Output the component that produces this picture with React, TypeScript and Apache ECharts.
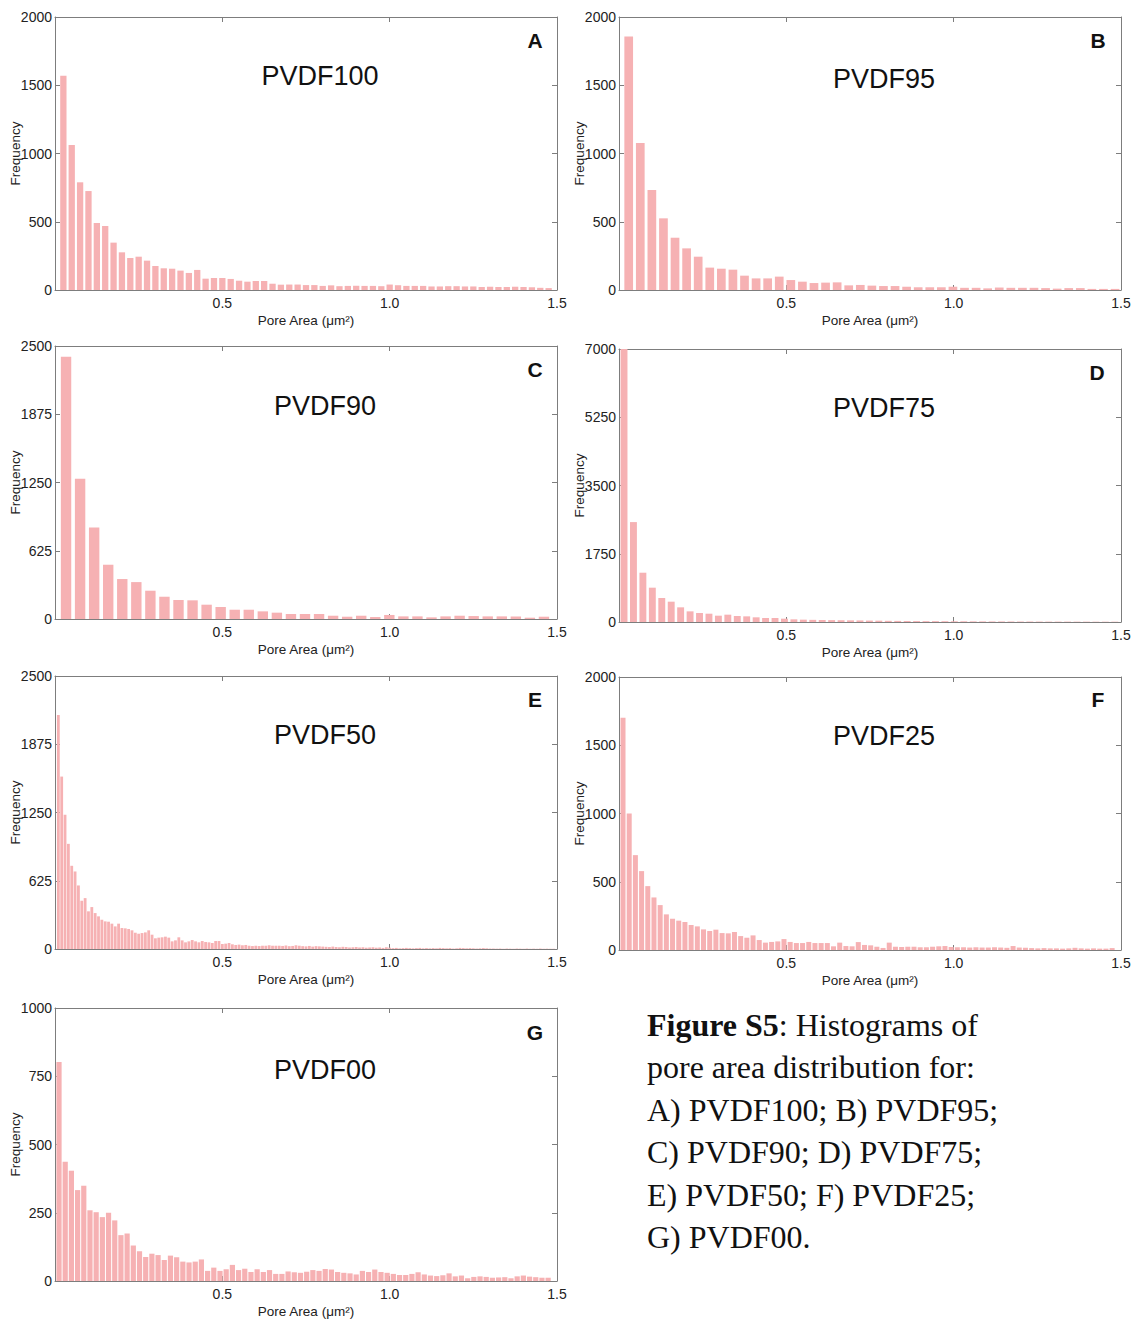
import React, { useEffect, useRef } from "react";
import * as echarts from "echarts";

// ---------- data (bin counts) ----------
const X_TICKS = [0.5, 1.0, 1.5];

// PVDF100 : bins of 0.025 µm², first centre 0.025
const PVDF100_COUNTS = [
  1570, 1062, 789, 725, 491, 469, 347, 276, 234, 244,
  215, 176, 159, 156, 142, 125, 147, 83, 88, 88,
  81, 68, 61, 66, 66, 46, 39, 40, 40, 36,
  36, 30, 34, 28, 30, 31, 30, 30, 28, 40,
  35, 30, 30, 30, 26, 26, 28, 28, 26, 26,
  22, 24, 22, 22, 24, 22, 20, 16, 14,
];
// PVDF95 : bins of ~0.0346
const PVDF95_COUNTS = [
  1858, 1077, 733, 525, 383, 305, 244, 164, 156, 149,
  105, 85, 85, 98, 73, 61, 51, 54, 56, 34,
  37, 32, 29, 29, 24, 20, 20, 20, 24, 16,
  16, 12, 18, 16, 16, 16, 14, 10, 14, 14,
  8, 8, 8,
];
// PVDF90 : bins of 0.042
const PVDF90_COUNTS = [
  2402, 1284, 838, 497, 366, 338, 259, 204, 174, 171,
  131, 110, 85, 85, 70, 58, 46, 46, 46, 30,
  21, 30, 18, 37, 24, 24, 15, 24, 30, 27,
  24, 24, 24, 12, 21,
];
// PVDF75 : bins of ~0.0282
const PVDF75_COUNTS = [
  7000, 2562, 1264, 880, 615, 521, 376, 273, 231, 213,
  162, 188, 154, 145, 120, 102, 102, 85, 68, 60,
  55, 52, 48, 45, 42, 40, 36, 34, 30, 28,
  26, 24, 22, 22, 20, 18, 18, 16, 15, 14,
  14, 13, 12, 12, 11, 10, 10, 10, 9, 9,
  8, 8, 8,
];
// PVDF50 : bins of 0.01
const PVDF50_COUNTS = [
  2143, 1579, 1229, 963, 762, 710, 582, 442, 466, 345,
  384, 329, 299, 268, 253, 250, 232, 207, 232, 192,
  189, 183, 171, 149, 140, 146, 152, 171, 131, 98,
  104, 107, 113, 104, 70, 79, 107, 79, 61, 70,
  82, 70, 61, 73, 64, 61, 55, 73, 73, 46,
  49, 55, 43, 37, 40, 34, 37, 30, 27, 30,
  27, 30, 30, 34, 30, 30, 30, 28, 32, 26,
  28, 34, 30, 26, 24, 28, 22, 26, 24, 22,
  20, 18, 22, 18, 16, 20, 18, 14, 16, 18,
  14, 16, 12, 14, 16, 12, 14, 10, 16, 12,
  8, 10, 6, 8, 10, 8, 6, 8, 10, 6,
  8, 6, 8, 6, 10, 8, 6, 8, 4, 6,
  10, 8, 6, 8, 6, 4, 6, 8, 6, 4,
  4, 3, 4, 2, 4, 3, 2, 4, 3, 2,
  4, 2, 3, 2, 4, 2, 3, 2, 2,
];
// PVDF25 : bins of ~0.0185
const PVDF25_COUNTS = [
  1702, 1000, 695, 578, 468, 385, 329, 261, 229, 215,
  205, 183, 173, 151, 139, 149, 124, 122, 132, 102,
  90, 107, 73, 54, 59, 63, 80, 59, 51, 51,
  59, 51, 51, 51, 27, 54, 29, 27, 58, 37,
  34, 24, 15, 54, 24, 22, 24, 24, 20, 20,
  24, 27, 29, 22, 20, 20, 18, 20, 18, 18,
  20, 18, 16, 29, 18, 16, 14, 12, 14, 12,
  12, 10, 12, 16, 12, 10, 12, 10, 10, 14,
];
// PVDF00 : bins of ~0.0185
const PVDF00_COUNTS = [
  802, 437, 404, 333, 349, 259, 252, 234, 250, 222,
  168, 174, 130, 109, 88, 100, 95, 77, 93, 87,
  71, 68, 71, 79, 37, 49, 37, 43, 59, 40,
  45, 33, 43, 33, 40, 26, 26, 35, 32, 30,
  34, 40, 37, 44, 42, 33, 30, 28, 24, 37,
  33, 42, 33, 30, 26, 22, 22, 26, 32, 24,
  20, 18, 21, 28, 17, 20, 10, 15, 17, 15,
  12, 13, 14, 10, 17, 20, 16, 14, 12, 12,
];

const SAMPLE_NAMES = ["PVDF100", "PVDF95", "PVDF90", "PVDF75", "PVDF50", "PVDF25", "PVDF00"];
const PANEL_LETTERS = ["A", "B", "C", "D", "E", "F", "G"];
const COUNTS = [PVDF100_COUNTS, PVDF95_COUNTS, PVDF90_COUNTS, PVDF75_COUNTS, PVDF50_COUNTS, PVDF25_COUNTS, PVDF00_COUNTS];
const BIN_FIRST_CENTRE = [0.025, 0.029, 0.033, 0.015, 0.01, 0.012, 0.012];
const BIN_WIDTH = [0.025, 0.0346, 0.042, 0.0282, 0.01, 0.0185, 0.0185];
const Y_MAX = [2000, 2000, 2500, 7000, 2500, 2000, 1000];

const CAPTION_LINES = [
  "{b|Figure S5}: Histograms of",
  "pore area distribution for:",
  "A) PVDF100; B) PVDF95;",
  "C) PVDF90; D) PVDF75;",
  "E) PVDF50; F) PVDF25;",
  "G) PVDF00.",
];

// ---------- layout ----------
const LAYOUT = [
  { left: 55, top: 17, bar: 6.3, title: [320, 76], letter: [535, 40] },
  { left: 619, top: 17, bar: 8.7, title: [884, 79], letter: [1098, 40] },
  { left: 55, top: 346, bar: 10.4, title: [325, 406], letter: [535, 369] },
  { left: 619, top: 349, bar: 6.9, title: [884, 408], letter: [1097, 372] },
  { left: 55, top: 676, bar: 2.8, title: [325, 735], letter: [535, 699] },
  { left: 619, top: 677, bar: 5, title: [884, 736], letter: [1098, 699] },
  { left: 55, top: 1008, bar: 5.2, title: [325, 1070], letter: [535, 1032] },
];
const PLOT_W = 502;
const PLOT_H = 273;

const SANS = '"Liberation Sans", Arial, Helvetica, sans-serif';
const SERIF = '"Liberation Serif", "Times New Roman", serif';
const FRAME = "#7d7d7d";
const BAR = "#f6b1b3";

export default function App() {
  const ref = useRef<HTMLDivElement>(null);

  useEffect(() => {
    if (!ref.current) return;
    const chart = echarts.init(ref.current, null, { renderer: "svg" });

    const grid: any[] = [];
    const xAxis: any[] = [];
    const yAxis: any[] = [];
    const series: any[] = [];
    const graphic: any[] = [];

    const lineStyle = { color: FRAME, width: 1 };
    const tick = { show: true, inside: true, length: 5, lineStyle };

    COUNTS.forEach((counts, i) => {
      const L = LAYOUT[i];
      grid.push({ left: L.left, top: L.top, width: PLOT_W, height: PLOT_H });
      xAxis.push({
        gridIndex: i,
        type: "value",
        position: "bottom",
        min: 0,
        max: 1.5,
        interval: 0.5,
        axisLine: { show: true, onZero: false, lineStyle },
        axisTick: tick,
        splitLine: { show: false },
        axisLabel: {
          color: "#222",
          fontFamily: SANS,
          fontSize: 14,
          margin: 6,
          showMinLabel: true,
          showMaxLabel: true,
          formatter: (v: number) => (X_TICKS.some((t) => Math.abs(t - v) < 1e-9) ? v.toFixed(1) : ""),
        },
        name: "Pore Area (μm²)",
        nameLocation: "middle",
        nameGap: 23,
        nameMoveOverlap: false,
        nameTextStyle: { color: "#222", fontFamily: SANS, fontSize: 13.5 },
      });
      xAxis.push({
        gridIndex: i,
        type: "value",
        position: "top",
        min: 0,
        max: 1.5,
        interval: 0.5,
        axisLine: { show: true, onZero: false, lineStyle },
        axisTick: tick,
        splitLine: { show: false },
        axisLabel: { show: false },
      });
      const yMax = Y_MAX[i];
      yAxis.push({
        gridIndex: i,
        type: "value",
        position: "left",
        min: 0,
        max: yMax,
        interval: yMax / 4,
        axisLine: { show: true, onZero: false, lineStyle },
        axisTick: tick,
        splitLine: { show: false },
        axisLabel: {
          color: "#222",
          fontFamily: SANS,
          fontSize: 14,
          margin: 3,
          formatter: (v: number) => String(Math.round(v)),
        },
        name: "Frequency",
        nameLocation: "middle",
        nameGap: 33,
        nameMoveOverlap: false,
        nameTextStyle: { color: "#222", fontFamily: SANS, fontSize: 13.5 },
      });
      yAxis.push({
        gridIndex: i,
        type: "value",
        position: "right",
        min: 0,
        max: yMax,
        interval: yMax / 4,
        axisLine: { show: true, onZero: false, lineStyle },
        axisTick: tick,
        splitLine: { show: false },
        axisLabel: { show: false },
      });
      series.push({
        type: "bar",
        name: SAMPLE_NAMES[i],
        xAxisIndex: 2 * i,
        yAxisIndex: 2 * i,
        barWidth: L.bar,
        itemStyle: { color: BAR },
        clip: true,
        data: counts.map((c, k) => [BIN_FIRST_CENTRE[i] + k * BIN_WIDTH[i], c]),
      });
      graphic.push({
        type: "text",
        x: L.title[0],
        y: L.title[1],
        style: {
          text: SAMPLE_NAMES[i],
          font: `27px ${SANS}`,
          fill: "#111",
          textAlign: "center",
          textVerticalAlign: "middle",
        },
      });
      graphic.push({
        type: "text",
        x: L.letter[0],
        y: L.letter[1],
        style: {
          text: PANEL_LETTERS[i],
          font: `bold 21px ${SANS}`,
          fill: "#111",
          textAlign: "center",
          textVerticalAlign: "middle",
        },
      });
    });

    CAPTION_LINES.forEach((line, j) => {
      graphic.push({
        type: "text",
        x: 647,
        y: 1025 + j * 42.4,
        style: {
          text: line,
          fontFamily: SERIF,
          fontSize: 32,
          fill: "#111",
          textAlign: "left",
          textVerticalAlign: "middle",
          rich: {
            b: { fontFamily: SERIF, fontSize: 32, fontWeight: "bold", fill: "#111" },
          },
        },
      });
    });

    chart.setOption({
      animation: false,
      backgroundColor: "#ffffff",
      grid,
      xAxis,
      yAxis,
      series,
      graphic,
    });

    return () => chart.dispose();
  }, []);

  return (
    <div
      ref={ref}
      style={{ position: "absolute", left: 0, top: 0, width: 1135, height: 1320, background: "#fff" }}
    />
  );
}
